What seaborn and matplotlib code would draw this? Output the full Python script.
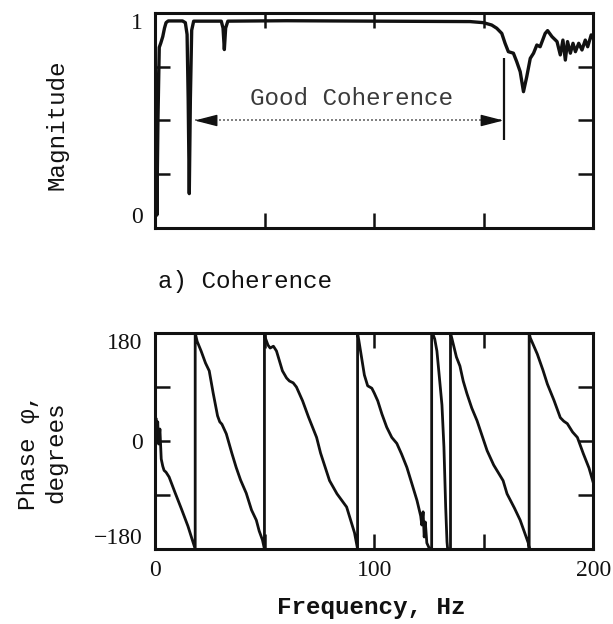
import matplotlib
matplotlib.use("Agg")
import matplotlib.pyplot as plt
import numpy as np
import pandas as pd
import seaborn as sns

# ---------------- data ----------------
# a) coherence magnitude vs frequency
coh_freq = [0.0, 0.4, 0.8, 1.3, 1.9, 2.6, 3.5, 4.3, 5.0, 6.0, 12.5, 13.8, 14.6,
            15.1, 15.6, 16.1, 16.7, 17.6, 30.2, 31.0, 31.6, 32.2, 33.2, 60.0,
            100.0, 143.7, 149.8, 153.6, 155.9, 158.2, 159.7, 161.2, 163.5,
            165.0, 166.6, 168.1, 169.6, 171.2, 172.7, 174.2, 175.7, 178.0,
            179.1, 181.1, 183.4, 184.9, 186.1, 187.2, 188.2, 189.5, 190.7,
            191.8, 193.3, 194.8, 196.3, 197.4, 199.0, 200.0]
coh_mag = [0.87, 0.50, 0.06, 0.50, 0.84, 0.86, 0.89, 0.93, 0.955, 0.963, 0.963,
           0.955, 0.90, 0.60, 0.16, 0.60, 0.92, 0.962, 0.962, 0.93, 0.83, 0.93,
           0.962, 0.964, 0.962, 0.960, 0.955, 0.944, 0.929, 0.905, 0.859, 0.820,
           0.813, 0.774, 0.727, 0.634, 0.704, 0.789, 0.813, 0.851, 0.843, 0.905,
           0.918, 0.890, 0.867, 0.805, 0.874, 0.781, 0.867, 0.813, 0.859, 0.820,
           0.859, 0.828, 0.874, 0.843, 0.898, 0.880]

# b) phase (wrapped to +/-180 deg) vs frequency
phase_freq = [0.0, 0.4, 0.8, 1.2, 1.6, 2.2, 2.8, 3.5, 4.1, 5.0, 6.4, 9.0, 12.0,
              15.0, 18.3, 18.3,
              19.2, 21.0, 23.0, 24.7, 26.5, 28.5, 29.5, 30.5, 32.5, 35.0, 37.0,
              39.0, 41.6, 44.0, 46.2, 47.5, 49.0, 49.9, 49.9,
              50.3, 51.5, 52.5, 54.0, 55.4, 58.1, 60.0, 61.3, 63.0, 64.5, 67.3,
              70.0, 73.7, 75.5, 79.6, 83.0, 87.4, 91.0, 92.4, 92.4,
              93.0, 95.5, 97.0, 98.9, 100.0, 101.6, 103.5, 105.7, 108.0, 110.3,
              112.5, 114.9, 117.5, 119.5, 121.2, 121.7, 122.3, 122.8, 123.3,
              124.0, 125.0, 126.2, 126.2,
              126.8, 127.6, 128.6, 129.5, 130.9, 131.8, 132.6, 133.2, 133.5,
              134.8, 134.8,
              135.5, 137.5, 139.1, 140.6, 142.3, 144.5, 146.9, 151.5, 154.5,
              158.8, 160.6, 164.0, 166.6, 170.3, 170.7, 170.7,
              171.2, 174.4, 177.0, 179.0, 182.0, 184.9, 186.5, 188.1, 190.5,
              192.7, 195.4, 198.0, 200.0]
phase_deg = [10, 38, 5, 32, -5, 20, -30, -42, -49, -52, -60, -85, -113,
             -142, -180, 180,
             166, 150, 130, 117, 80, 42, 32, 28, 12, -20, -44,
             -65, -87, -115, -132, -150, -165, -180, 180,
             172, 160, 155, 158, 150, 117, 105, 100, 97, 90, 67,
             40, 6, -20, -66, -88, -110, -153, -180, 180,
             167, 110, 92, 88, 80, 67, 45, 23, 6, -4,
             -22, -44, -75, -99, -125, -140, -118, -160, -135,
             -170, -178, -180, 180,
             178, 170, 150, 115, 60, -10, -110, -168, -180,
             -180, 180,
             170, 140, 125, 100, 79, 55, 34, -16, -40,
             -66, -88, -112, -132, -170, -180, 180,
             172, 145, 118, 95, 68, 39, 33, 29, 15,
             6, -21, -45, -70]

# frequency band marked as good coherence (Hz) and the arrow level
good_band = [18.0, 159.0]
good_level = 0.5

# ---------------- style ----------------
sns.set_theme(style="white")
plt.rcParams["font.family"] = ["Liberation Mono", "DejaVu Sans"]
plt.rcParams["axes.edgecolor"] = "black"
plt.rcParams["axes.linewidth"] = 2.0

LABEL_FS = 17.5
TICK_FS = 17
INK = "#111111"

coh_df = pd.DataFrame({"freq": coh_freq, "mag": coh_mag})
ph_df = pd.DataFrame({"freq": phase_freq, "phase": phase_deg})

fig = plt.figure(figsize=(6.13, 6.24), dpi=100)
ax1 = fig.add_axes([0.253, 0.6346, 0.715, 0.3446])
ax2 = fig.add_axes([0.253, 0.1202, 0.715, 0.3461])

# ---- coherence ----
sns.lineplot(data=coh_df, x="freq", y="mag", ax=ax1, estimator=None, sort=False,
             color=INK, linewidth=2.4)
ax1.set_xlim(0, 200)
ax1.set_ylim(0, 1)
ax1.set_xticks([50, 100, 150])
ax1.set_xticklabels([])
ax1.set_yticks([0, 0.25, 0.5, 0.75, 1.0])
ax1.set_yticklabels(["0", "", "", "", "1"])

# band annotation
ax1.plot(good_band, [good_level, good_level], color="#6a6a6a", lw=1.2,
         ls=(0, (1.2, 1.2)))
for end, start in ((good_band[0], good_band[0] + 4), (good_band[1], good_band[1] - 4)):
    ax1.annotate("", xy=(end, good_level), xytext=(start, good_level),
                 arrowprops=dict(arrowstyle="-|>,head_length=0.7,head_width=0.18",
                                 mutation_scale=20, color=INK, lw=1.0,
                                 shrinkA=0, shrinkB=0))
ax1.vlines(good_band[1], 0.41, 0.79, color=INK, lw=1.6)
ax1.text(sum(good_band) / 2 + 1, 0.6, "Good Coherence", ha="center", va="center",
         fontsize=LABEL_FS, color="#3a3a3a")

ax1.set_xlabel("a) Coherence", fontsize=LABEL_FS, color=INK)
ax1.xaxis.label.set(ha="left", va="center")
ax1.xaxis.set_label_coords(0.007, -0.251)
ax1.set_ylabel("Magnitude", fontsize=LABEL_FS, color=INK)
ax1.yaxis.label.set(ha="center", va="center", rotation_mode="default")
ax1.yaxis.set_label_coords(-0.224, 0.479)

# ---- phase ----
sns.lineplot(data=ph_df, x="freq", y="phase", ax=ax2, estimator=None, sort=False,
             color=INK, linewidth=2.0)
ax2.set_xlim(0, 200)
ax2.set_ylim(-180, 180)
ax2.set_xticks([0, 50, 100, 150, 200])
ax2.set_xticklabels(["0", "", "100", "", "200"])
ax2.set_yticks([-180, -90, 0, 90, 180])
ax2.set_yticklabels(["\u2212180", "", "0", "", "180"])

ax2.set_xlabel("Frequency, Hz", fontsize=LABEL_FS, fontweight="bold", color=INK)
ax2.xaxis.label.set(ha="center", va="center")
ax2.xaxis.set_label_coords(0.493, -0.273)
ax2.set_ylabel("Phase \u03c6,\ndegrees", fontsize=LABEL_FS, color=INK,
               linespacing=1.25)
ax2.yaxis.label.set(ha="center", va="center", rotation_mode="default",
                    multialignment="center")
ax2.yaxis.set_label_coords(-0.258, 0.449)

for ax in (ax1, ax2):
    ax.tick_params(axis="both", which="both", direction="in", length=11,
                   width=1.8, color=INK, top=True, right=True, bottom=True,
                   left=True, labeltop=False, labelright=False,
                   labelsize=TICK_FS, labelcolor=INK)
    ax.tick_params(axis="y", pad=9)
    ax.tick_params(axis="x", pad=8)
    for lab in ax.get_xticklabels() + ax.get_yticklabels():
        lab.set_fontfamily("Liberation Serif")
    for sp in ax.spines.values():
        sp.set_linewidth(2.2)
        sp.set_color(INK)

# keep the end labels inside the frame height
ylabs1 = ax1.get_yticklabels()
ylabs1[0].set_va("bottom")
ylabs1[-1].set_va("top")
ylabs2 = ax2.get_yticklabels()
ylabs2[0].set_va("bottom")
ylabs2[-1].set_va("top")

fig.savefig("out.png", dpi=100, facecolor="white")
